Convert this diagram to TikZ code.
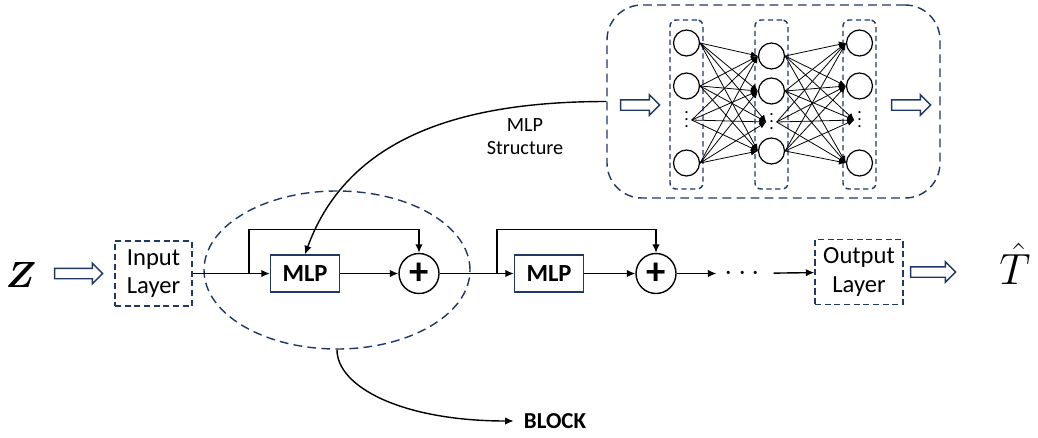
\documentclass[tikz,border=0pt]{standalone}
\usepackage{fontspec}
\setmainfont{Carlito}
\usepackage{amsmath}
\usepackage{bm}
\usetikzlibrary{arrows.meta, positioning, shapes.geometric, shapes.arrows}
\definecolor{navy}{HTML}{1F3864}
\tikzset{
  lay/.style={draw=navy, line width=0.8pt, dash pattern=on 3.5pt off 2pt,
              minimum width=1.54cm, minimum height=1.3cm, align=center,
              inner sep=1pt, font=\fontsize{14}{16}\selectfont},
  mod/.style={draw=navy, line width=0.8pt, minimum width=1.38cm, minimum height=0.74cm,
              font=\fontsize{14}{16}\selectfont\bfseries},
  sum/.style={circle, draw, line width=0.8pt, minimum size=0.8cm, inner sep=0pt,
              font=\fontsize{22}{22}\selectfont\bfseries},
  fat/.style={single arrow, draw=navy, line width=0.8pt, fill=white, inner xsep=0pt,
              inner ysep=0.09cm, single arrow head extend=0.1cm, single arrow head indent=0pt},
  col/.style={draw=navy, line width=0.8pt, dash pattern=on 3pt off 2pt, rounded corners=0.12cm,
              minimum width=0.66cm, minimum height=3.38cm},
  neu/.style={circle, draw, line width=0.7pt, minimum size=0.52cm, inner sep=0pt},
  vd/.style={inner sep=1.5pt},
  flow/.style={-{Latex[length=1.7mm, width=1.5mm]}, line width=0.8pt},
  link/.style={-{Latex[length=1.4mm, width=1.2mm]}, line width=0.45pt},
}
\newcommand{\colvdots}{\vbox{\baselineskip4pt\lineskiplimit0pt\hbox{.}\hbox{.}\hbox{.}}}

\begin{document}
\begin{tikzpicture}
  \useasboundingbox (0,0) rectangle (20.76,-8.74);
  % residual blocks
  \node (blk) [ellipse, draw=navy, line width=0.8pt, dash pattern=on 5pt off 3pt,
               minimum width=5.32cm, minimum height=3.16cm] at (6.74,-5.4) {};
  \node (z)    at (0.42,-5.5) {\fontsize{21}{24}\selectfont$\bm{Z}$};
  \node (ha1)  [fat, minimum height=0.96cm] at (1.52,-5.47) {};
  \node (inp)  [lay] at (3.07,-5.47) {Input\\Layer};
  \node (mlp1) [mod] at (6.1,-5.47) {MLP};
  \node (p1)   [sum] at (8.38,-5.47) {+};
  \node (mlp2) [mod] at (10.98,-5.47) {MLP};
  \node (p2)   [sum] at (13.12,-5.47) {+};
  \node (dots) [inner sep=0.16cm, font=\fontsize{16}{18}\selectfont] at (14.9,-5.47) {$\cdots$};
  \node (out)  [lay, minimum width=1.76cm] at (17.18,-5.44) {Output\\Layer};
  \node (ha2)  [fat, minimum height=0.9cm] at (18.61,-5.44) {};
  \node (th)   at (20.3,-5.28) {\fontsize{24}{28}\selectfont$\hat{T}$};
  \coordinate (s1) at (4.98,-5.47);
  \coordinate (s2) at (9.94,-5.47);
  \draw[flow] (inp.east) -- (mlp1.west);
  \draw[flow] (s1) -- ++(0,0.88) -| (p1.north);
  \draw[flow] (mlp1) -- (p1);
  \draw[flow] (p1.east) -- (mlp2.west);
  \draw[flow] (s2) -- ++(0,0.88) -| (p2.north);
  \draw[flow] (mlp2) -- (p2);
  \draw[flow] (p2) -- (dots);
  \draw[flow] (dots) -- (out);
  % MLP structure
  \node (mlpbox) [draw=navy, line width=0.8pt, dash pattern=on 5pt off 3pt, rounded corners=0.7cm,
                  minimum width=6.66cm, minimum height=3.86cm] at (15.47,-2.03) {};
  \node (ha3) [fat, minimum height=0.78cm] at (12.75,-2.1) {};
  \node (ha4) [fat, minimum height=0.78cm] at (18.17,-2.1) {};
  \node (ca) [col] at (13.73,-2.09) {};
  \node (cb) [col] at (15.43,-2.09) {};
  \node (cc) [col] at (17.19,-2.09) {};
  \foreach \n/\y in {1/-0.86, 2/-1.72, 3/-3.26} {
    \node (a\n) [neu] at (13.73,\y) {};
    \node (c\n) [neu] at (17.19,\y) {};
  }
  \foreach \n/\y in {1/-1.12, 2/-1.82, 3/-3.02}
    \node (b\n) [neu] at (15.43,\y) {};
  \node (ad) [vd] at (13.73,-2.4) {\colvdots};
  \node (bd) [vd] at (15.43,-2.44) {\colvdots};
  \node (cd) [vd] at (17.19,-2.4) {\colvdots};
  \foreach \i in {1,2,d,3}
    \foreach \j in {1,2,d,3} {
      \draw[link] (a\i.east) -- (b\j.west);
      \draw[link] (b\i.east) -- (c\j.west);
    }
  \draw[flow] (mlpbox.west) to[out=180, in=70] (mlp1.north);
  \node (lbl) [align=center, font=\fontsize{11.5}{13}\selectfont] at (10.5,-2.74) {MLP\\Structure};
  % block label
  \node (blklbl) [inner sep=0.2cm, font=\fontsize{13}{15}\selectfont\bfseries] at (11.1,-8.42) {BLOCK};
  \draw[flow] (blk.south) to[out=-90, in=180, out looseness=0.5, in looseness=1.5] (blklbl.west);
\end{tikzpicture}
\end{document}
